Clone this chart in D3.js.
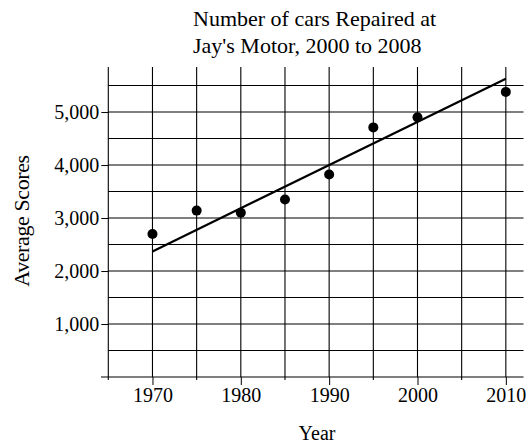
<!DOCTYPE html>
<html>
<head>
<meta charset="utf-8">
<script src="https://cdn.jsdelivr.net/npm/d3@7"></script>
<style>
  body { margin: 0; background: #fff; }
  svg text { font-family: "Liberation Serif", "Times New Roman", serif; fill: #000; }
</style>
</head>
<body>
<svg id="chart" width="530" height="446"></svg>
<script>
// data
var years = [1970, 1975, 1980, 1985, 1990, 1995, 2000, 2010];
var cars = [2700, 3140, 3100, 3350, 3820, 4710, 4900, 5380];
var trendYears = [1970, 2010];
var trendValues = [2370, 5630];
var xTickLabels = [1970, 1980, 1990, 2000, 2010];
var xGridYears = [1965, 1970, 1975, 1980, 1985, 1990, 1995, 2000, 2005, 2010];
var yTickLabels = [1000, 2000, 3000, 4000, 5000];
var yGridValues = [500, 1000, 1500, 2000, 2500, 3000, 3500, 4000, 4500, 5000, 5500];
var titleLines = ["Number of cars Repaired at", "Jay's Motor, 2000 to 2008"];

var svg = d3.select('#chart');

var x = d3.scaleLinear().domain([1965, 2012]).range([108.3, 523.5]);
var y = d3.scaleLinear().domain([0, 5850]).range([377, 67]);

// grid
svg.append('g').selectAll('line.h')
    .data(yGridValues)
    .enter().append('line')
    .attr('x1', x(1965))
    .attr('x2', x(2012))
    .attr('y1', function (d) { return y(d); })
    .attr('y2', function (d) { return y(d); })
    .attr('stroke', '#000')
    .attr('stroke-width', 1.1);

svg.append('g').selectAll('line.v')
    .data(xGridYears)
    .enter().append('line')
    .attr('x1', function (d) { return x(d); })
    .attr('x2', function (d) { return x(d); })
    .attr('y1', y(5850))
    .attr('y2', function (d) { return xTickLabels.indexOf(d) >= 0 ? y(0) : y(0) + 3; })
    .attr('stroke', '#000')
    .attr('stroke-width', 1.1);

// bottom axis line
svg.append('line')
    .attr('x1', 101)
    .attr('x2', x(2012))
    .attr('y1', y(0))
    .attr('y2', y(0))
    .attr('stroke', '#000')
    .attr('stroke-width', 1.1);

// axes for ticks and labels
var xAxis = d3.axisBottom(x)
    .tickValues(xTickLabels)
    .tickFormat(d3.format('d'))
    .tickSize(8)
    .tickPadding(3);

var gx = svg.append('g')
    .attr('transform', 'translate(0,' + y(0) + ')')
    .call(xAxis);
gx.select('.domain').remove();
gx.selectAll('text').style('font-size', '20px').style('font-family', '"Liberation Serif", serif');

var yAxis = d3.axisLeft(y)
    .tickValues(yTickLabels)
    .tickFormat(d3.format(','))
    .tickSize(7)
    .tickPadding(2);

var gy = svg.append('g')
    .attr('transform', 'translate(' + x(1965) + ',0)')
    .call(yAxis);
gy.select('.domain').remove();
gy.selectAll('text').style('font-size', '20px').style('font-family', '"Liberation Serif", serif');

// trend line
var line = d3.line()
    .x(function (d) { return x(d[0]); })
    .y(function (d) { return y(d[1]); });

svg.append('path')
    .datum(d3.zip(trendYears, trendValues))
    .attr('d', line)
    .attr('fill', 'none')
    .attr('stroke', '#000')
    .attr('stroke-width', 2.2);

// points
svg.append('g').selectAll('circle')
    .data(d3.zip(years, cars))
    .enter().append('circle')
    .attr('cx', function (d) { return x(d[0]); })
    .attr('cy', function (d) { return y(d[1]); })
    .attr('r', 5)
    .attr('fill', '#000');

// title
svg.append('text')
    .attr('x', 193)
    .attr('y', 26)
    .style('font-size', '22px')
    .selectAll('tspan')
    .data(titleLines)
    .enter().append('tspan')
    .attr('x', 193)
    .attr('dy', function (d, i) { return i === 0 ? 0 : 26.5; })
    .text(function (d) { return d; });

// axis titles
svg.append('text')
    .attr('x', 317)
    .attr('y', 440)
    .attr('text-anchor', 'middle')
    .style('font-size', '20px')
    .text('Year');

svg.append('text')
    .attr('transform', 'translate(29,221) rotate(-90)')
    .attr('text-anchor', 'middle')
    .style('font-size', '22px')
    .style('letter-spacing', '-0.4px')
    .text('Average Scores');
</script>
</body>
</html>
